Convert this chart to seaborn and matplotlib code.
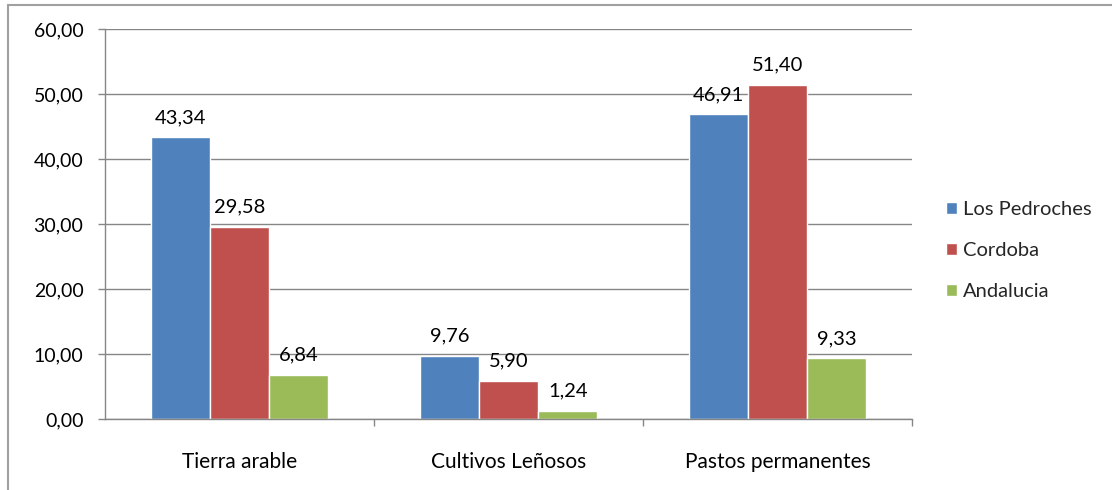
import seaborn as sns
import matplotlib.pyplot as plt
import matplotlib.ticker as ticker
import pandas as pd

categories = ['Tierra arable', 'Cultivos Leñosos', 'Pastos permanentes']
series = ['Los Pedroches', 'Cordoba', 'Andalucia']
pedroches = [43.34, 9.76, 46.91]
cordoba = [29.58, 5.90, 51.40]
andalucia = [6.84, 1.24, 9.33]
yticks = [0, 10, 20, 30, 40, 50, 60]

colors = ['#4F81BD', '#C0504D', '#9BBB59']
grid_col = '#868686'

rows = []
for s, vals in zip(series, [pedroches, cordoba, andalucia]):
    for c, v in zip(categories, vals):
        rows.append({'cat': c, 'serie': s, 'val': v})
df = pd.DataFrame(rows)

sns.set_theme(style='white')
plt.rcParams['font.family'] = ['Lato', 'DejaVu Sans']

fig = plt.figure(figsize=(11.12, 4.9), dpi=100)
ax = fig.add_axes([105 / 1112, 1 - 419 / 490, 807 / 1112, 390 / 490])

sns.barplot(data=df, x='cat', y='val', hue='serie', palette=colors,
            width=0.66, gap=0, saturation=1, ax=ax, legend=True)

ax.set_ylim(0, 60)
ax.set_xlim(-0.5, 2.5)
ax.set_yticks(yticks)
ax.yaxis.set_major_formatter(ticker.FuncFormatter(lambda v, p: f'{v:.2f}'.replace('.', ',')))
ax.yaxis.grid(True, color=grid_col, lw=1)
ax.set_axisbelow(True)
ax.set_xlabel('')
ax.set_ylabel('')

for sp in ['top', 'right']:
    ax.spines[sp].set_visible(False)
for sp in ['left', 'bottom']:
    ax.spines[sp].set_color(grid_col)
    ax.spines[sp].set_linewidth(1)

ax.tick_params(axis='y', left=True, length=5, width=1, color=grid_col,
               labelsize=14, pad=10.5, labelcolor='black')
ax.tick_params(axis='x', bottom=False, labelsize=15, pad=18, labelcolor='black')
ax.set_xticks([0.5, 1.5, 2.5], minor=True)
ax.tick_params(axis='x', which='minor', bottom=True, length=5, width=1, color=grid_col)

for cont in ax.containers:
    ax.bar_label(cont, labels=[f'{b.get_height():.2f}'.replace('.', ',') for b in cont],
                 padding=8, fontsize=14.5, color='black')

handles, labels = ax.get_legend_handles_labels()
ax.get_legend().remove()
fig.legend(handles, labels, loc='upper left', bbox_to_anchor=(938 / 1112, 1 - 193 / 490),
           frameon=False, fontsize=14.5, handlelength=0.55, handleheight=0.55,
           handletextpad=0.3, labelspacing=1.2, borderaxespad=0)

# chart border (only top and left are inside the picture)
fig.add_artist(plt.Line2D([8 / 1112, 8 / 1112], [0, 1 - 5 / 490], transform=fig.transFigure,
                          color='#A0A0A0', lw=1.5))
fig.add_artist(plt.Line2D([8 / 1112, 1], [1 - 5 / 490, 1 - 5 / 490], transform=fig.transFigure,
                          color='#A0A0A0', lw=1.5))

plt.savefig('out.png', dpi=100)
